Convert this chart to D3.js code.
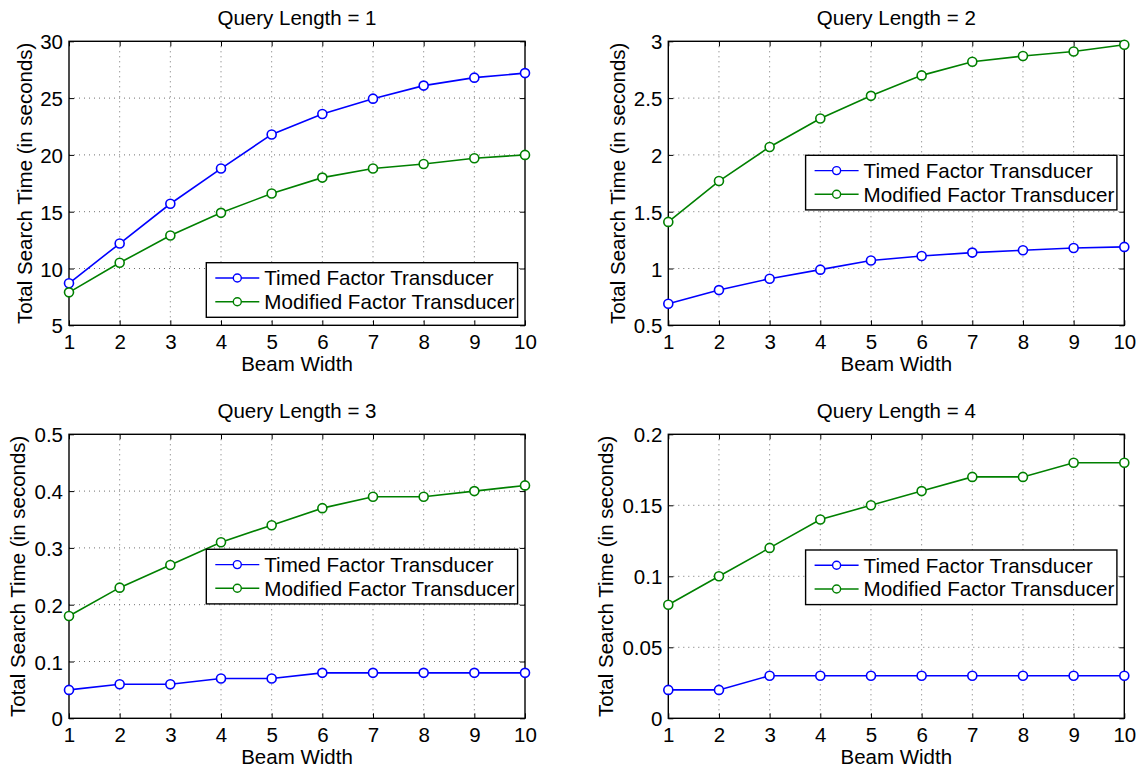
<!DOCTYPE html>
<html>
<head>
<meta charset="utf-8">
<script src="https://cdn.jsdelivr.net/npm/d3@7"></script>
<style>
  html, body { margin: 0; padding: 0; background: #fff; }
  svg { display: block; }
  text { font-family: "Liberation Sans", Arial, Helvetica, sans-serif; fill: #000; }
</style>
</head>
<body>
<svg id="fig" width="1145" height="769"></svg>
<script>
// Beam widths shared by every panel
const beamWidths = [1, 2, 3, 4, 5, 6, 7, 8, 9, 10];
const seriesNames = ["Timed Factor Transducer", "Modified Factor Transducer"];
const seriesColors = ["#0000ff", "#008000"];

// Query length 1
const q1Timed    = [8.7, 12.2, 15.7, 18.8, 21.8, 23.6, 24.95, 26.1, 26.8, 27.2];
const q1Modified = [7.9, 10.5, 12.9, 14.9, 16.6, 18.0, 18.8, 19.2, 19.7, 20.0];
const q1YTicks   = [5, 10, 15, 20, 25, 30];

// Query length 2
const q2Timed    = [0.69, 0.81, 0.91, 0.99, 1.07, 1.11, 1.14, 1.16, 1.18, 1.19];
const q2Modified = [1.41, 1.77, 2.07, 2.32, 2.52, 2.70, 2.82, 2.87, 2.91, 2.97];
const q2YTicks   = [0.5, 1, 1.5, 2, 2.5, 3];

// Query length 3
const q3Timed    = [0.05, 0.06, 0.06, 0.07, 0.07, 0.08, 0.08, 0.08, 0.08, 0.08];
const q3Modified = [0.18, 0.23, 0.27, 0.31, 0.34, 0.37, 0.39, 0.39, 0.40, 0.41];
const q3YTicks   = [0, 0.1, 0.2, 0.3, 0.4, 0.5];

// Query length 4
const q4Timed    = [0.02, 0.02, 0.03, 0.03, 0.03, 0.03, 0.03, 0.03, 0.03, 0.03];
const q4Modified = [0.08, 0.10, 0.12, 0.14, 0.15, 0.16, 0.17, 0.17, 0.18, 0.18];
const q4YTicks   = [0, 0.05, 0.1, 0.15, 0.2];

const titles = ["Query Length = 1", "Query Length = 2", "Query Length = 3", "Query Length = 4"];
const xLabel = "Beam Width";
const yLabel = "Total Search Time (in seconds)";

const panels = [
  { title: titles[0], series: [q1Timed, q1Modified], yTicks: q1YTicks },
  { title: titles[1], series: [q2Timed, q2Modified], yTicks: q2YTicks },
  { title: titles[2], series: [q3Timed, q3Modified], yTicks: q3YTicks },
  { title: titles[3], series: [q4Timed, q4Modified], yTicks: q4YTicks }
];

// Layout of the 2x2 grid of axes
const colLeft = [69, 668.3];
const rowTop = [41.3, 434.3];
const plotW = 456, plotH = 284;
const yLabelGap = [37.3, 43.3, 44, 55];
const legendTop = [221.4, 114, 115, 115.7];
const FONT = 20.5;

const svg = d3.select("#fig");
const fmt = v => String(+v.toFixed(3));

panels.forEach((p, i) => {
  const left = colLeft[i % 2];
  const top = rowTop[Math.floor(i / 2)];
  const x = d3.scaleLinear().domain([1, 10]).range([left, left + plotW]);
  const yExt = d3.extent(p.yTicks);
  const y = d3.scaleLinear().domain(yExt).range([top + plotH, top]);
  const g = svg.append("g");

  // dotted grid
  const grid = g.append("g").attr("stroke", "#707070").attr("stroke-width", 1)
    .attr("stroke-dasharray", "1,4").attr("fill", "none");
  beamWidths.slice(1, -1).forEach(b => {
    grid.append("line").attr("x1", x(b)).attr("x2", x(b)).attr("y1", top).attr("y2", top + plotH);
  });
  p.yTicks.slice(1, -1).forEach(t => {
    grid.append("line").attr("x1", left).attr("x2", left + plotW).attr("y1", y(t)).attr("y2", y(t));
  });

  // bottom axis with labels, ticks drawn inward
  const xAxis = d3.axisBottom(x).tickValues(beamWidths).tickFormat(d3.format("d"))
    .tickSizeInner(-5).tickSizeOuter(0).tickPadding(0);
  const xa = g.append("g").attr("transform", `translate(0,${top + plotH})`).call(xAxis);
  xa.select(".domain").remove();
  xa.selectAll("line").attr("stroke", "#000").attr("stroke-width", 1);
  xa.selectAll("text").attr("font-size", FONT).attr("dy", null).attr("y", 23.5)
    .style("font-family", '"Liberation Sans", Arial, sans-serif');

  // left axis
  const yAxis = d3.axisLeft(y).tickValues(p.yTicks).tickFormat(fmt)
    .tickSizeInner(-5).tickSizeOuter(0).tickPadding(0);
  const ya = g.append("g").attr("transform", `translate(${left},0)`).call(yAxis);
  ya.select(".domain").remove();
  ya.selectAll("line").attr("stroke", "#000").attr("stroke-width", 1);
  ya.selectAll("text").attr("font-size", FONT).attr("dy", null).attr("x", -6).attr("y", 7.5)
    .style("font-family", '"Liberation Sans", Arial, sans-serif');

  // mirrored ticks on top and right
  const topAxis = g.append("g").attr("transform", `translate(0,${top})`)
    .call(d3.axisTop(x).tickValues(beamWidths).tickFormat("").tickSizeInner(-5).tickSizeOuter(0));
  topAxis.select(".domain").remove();
  topAxis.selectAll("line").attr("stroke", "#000");
  const rightAxis = g.append("g").attr("transform", `translate(${left + plotW},0)`)
    .call(d3.axisRight(y).tickValues(p.yTicks).tickFormat("").tickSizeInner(-5).tickSizeOuter(0));
  rightAxis.select(".domain").remove();
  rightAxis.selectAll("line").attr("stroke", "#000");

  // axes box
  g.append("rect").attr("x", left).attr("y", top).attr("width", plotW).attr("height", plotH)
    .attr("fill", "none").attr("stroke", "#000").attr("stroke-width", 1.4);

  // title and axis labels
  g.append("text").attr("x", left + plotW / 2).attr("y", top - 16)
    .attr("text-anchor", "middle").attr("font-size", FONT).text(p.title);
  g.append("text").attr("x", left + plotW / 2).attr("y", top + plotH + 45.5)
    .attr("text-anchor", "middle").attr("font-size", FONT).text(xLabel);
  g.append("text")
    .attr("transform", `translate(${left - yLabelGap[i]},${top + plotH / 2}) rotate(-90)`)
    .attr("text-anchor", "middle").attr("font-size", FONT).text(yLabel);

  // series
  const line = d3.line().x((d, k) => x(beamWidths[k])).y(d => y(d));
  p.series.forEach((vals, s) => {
    g.append("path").datum(vals).attr("d", line).attr("fill", "none")
      .attr("stroke", seriesColors[s]).attr("stroke-width", 1.6);
    g.append("g").selectAll("circle").data(vals).join("circle")
      .attr("cx", (d, k) => x(beamWidths[k])).attr("cy", d => y(d)).attr("r", 4.5)
      .attr("fill", "#fff").attr("stroke", seriesColors[s]).attr("stroke-width", 1.6);
  });

  // legend
  const lx = left + 137.3, ly = top + legendTop[i];
  const lg = g.append("g");
  lg.append("rect").attr("x", lx).attr("y", ly).attr("width", 311.3).attr("height", 54.6)
    .attr("fill", "#fff").attr("stroke", "#000").attr("stroke-width", 1.4);
  seriesNames.forEach((name, s) => {
    const cy = ly + 15.3 + s * 23.7;
    lg.append("line").attr("x1", lx + 9).attr("x2", lx + 53).attr("y1", cy).attr("y2", cy)
      .attr("stroke", seriesColors[s]).attr("stroke-width", 1.4);
    lg.append("circle").attr("cx", lx + 31).attr("cy", cy).attr("r", 4)
      .attr("fill", "#fff").attr("stroke", seriesColors[s]).attr("stroke-width", 1.4);
    lg.append("text").attr("x", lx + 58).attr("y", cy + 7.3).attr("font-size", 20.6).text(name);
  });
});
</script>
</body>
</html>
